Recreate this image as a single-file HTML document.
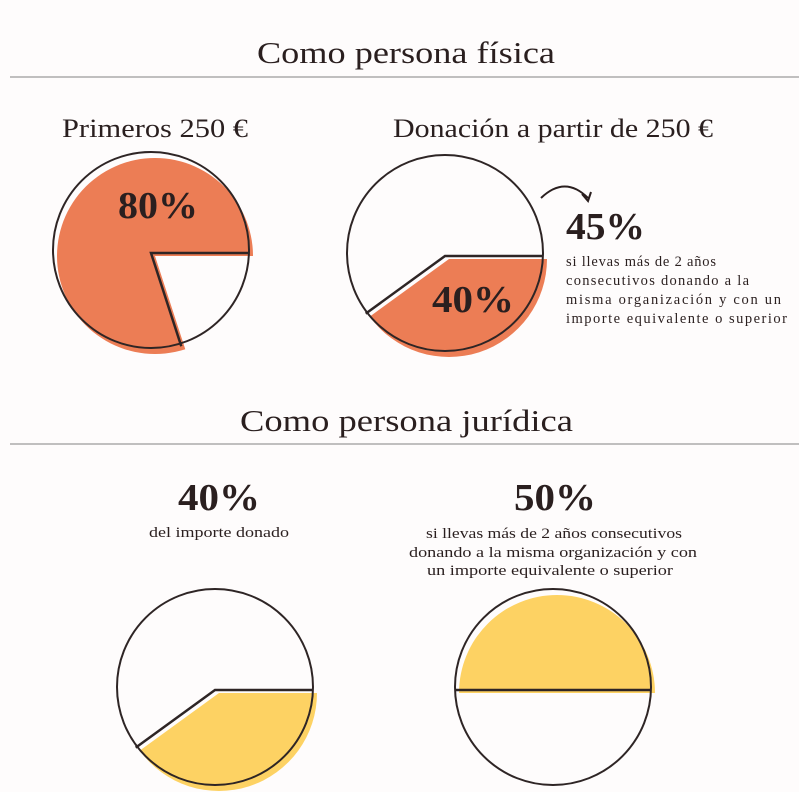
<!DOCTYPE html>
<html><head><meta charset="utf-8"><style>
body{margin:0;background:#fff;}
svg{display:block;font-family:"Liberation Serif",serif;}
</style></head><body>
<svg id="c" width="799" height="792" viewBox="0 0 799 792">
<rect width="799" height="792" fill="#fefcfc"/>
<text x="257" y="63" font-size="31" textLength="298" lengthAdjust="spacingAndGlyphs" fill="#2a1f1f">Como persona física</text>
<line x1="10" y1="77" x2="799" y2="77" stroke="#9a9a9a" stroke-width="1.2"/>
<text x="62" y="137" font-size="26" textLength="186" lengthAdjust="spacingAndGlyphs" fill="#2a1f1f">Primeros 250 €</text>
<text x="393" y="137" font-size="26" textLength="320" lengthAdjust="spacingAndGlyphs" fill="#2a1f1f">Donación a partir de 250 €</text>
<g id="pies"></g>
<text x="118" y="218" font-size="38" font-weight="bold" textLength="80" lengthAdjust="spacingAndGlyphs" fill="#2a1f1f">80%</text>
<text x="432" y="312" font-size="38" font-weight="bold" textLength="82" lengthAdjust="spacingAndGlyphs" fill="#2a1f1f">40%</text>
<path d="M541 198 Q565 175 588 198" fill="none" stroke="#2a1f1f" stroke-width="2"/>
<path d="M582 194 L588 201 L591 192" fill="none" stroke="#2a1f1f" stroke-width="2"/>
<text x="566" y="239" font-size="38" font-weight="bold" textLength="79" lengthAdjust="spacingAndGlyphs" fill="#2a1f1f">45%</text>
<g font-size="14.5" fill="#2a1f1f" lengthAdjust="spacingAndGlyphs">
<text x="566" y="266" textLength="150">si llevas más de 2 años</text>
<text x="566" y="285" textLength="183">consecutivos donando a la</text>
<text x="566" y="304" textLength="215">misma organización y con un</text>
<text x="566" y="323" textLength="221">importe equivalente o superior</text>
</g>
<text x="240" y="431" font-size="31" textLength="333" lengthAdjust="spacingAndGlyphs" fill="#2a1f1f">Como persona jurídica</text>
<line x1="10" y1="444" x2="799" y2="444" stroke="#9a9a9a" stroke-width="1.2"/>
<text x="178" y="510" font-size="38" font-weight="bold" textLength="82" lengthAdjust="spacingAndGlyphs" fill="#2a1f1f">40%</text>
<text x="149" y="537" font-size="14.5" textLength="140" lengthAdjust="spacingAndGlyphs" fill="#2a1f1f">del importe donado</text>
<text x="514" y="510" font-size="38" font-weight="bold" textLength="82" lengthAdjust="spacingAndGlyphs" fill="#2a1f1f">50%</text>
<g font-size="14.5" fill="#2a1f1f">
<text x="426" y="538" textLength="256" lengthAdjust="spacingAndGlyphs">si llevas más de 2 años consecutivos</text>
<text x="409" y="557" textLength="288" lengthAdjust="spacingAndGlyphs">donando a la misma organización y con</text>
<text x="427" y="575" textLength="246" lengthAdjust="spacingAndGlyphs">un importe equivalente o superior</text>
</g>
</svg>
<script>
const pieNames=['pie-fisica-primeros','pie-fisica-resto','pie-juridica-40','pie-juridica-50'];
const piePercents=[80,40,40,50];
const pieColors=['#ec7d55','#ec7d55','#fdd263','#fdd263'];
const pieDirections=[-1,1,1,-1];
const layout=[{cx:151,cy:253,r:98},{cx:445,cy:256,r:98},{cx:215,cy:690,r:98},{cx:553,cy:690,r:98}];
const ns='http://www.w3.org/2000/svg';
const g=document.getElementById('pies');
function pt(cx,cy,r,deg){const a=deg*Math.PI/180;return [cx+r*Math.cos(a),cy+r*Math.sin(a)];}
function sector(cx,cy,r,a0,a1){
  const p0=pt(cx,cy,r,a0),p1=pt(cx,cy,r,a1);
  const large=Math.abs(a1-a0)>180?1:0,sw=a1>a0?1:0;
  return `M${cx} ${cy} L${p0[0]} ${p0[1]} A${r} ${r} 0 ${large} ${sw} ${p1[0]} ${p1[1]} Z`;
}
piePercents.forEach((v,i)=>{
  const L=layout[i],sweep=v*3.6;
  const a0=0,a1=pieDirections[i]===1?sweep:-sweep;
  const fill=document.createElementNS(ns,'path');
  fill.setAttribute('d',sector(L.cx+4,L.cy+3,L.r,a0,a1));
  fill.setAttribute('fill',pieColors[i]);
  
  
  g.appendChild(fill);
  const circ=document.createElementNS(ns,'circle');
  circ.setAttribute('cx',L.cx);circ.setAttribute('cy',L.cy-3);circ.setAttribute('r',L.r);
  circ.setAttribute('fill','none');circ.setAttribute('stroke','#2e2525');circ.setAttribute('stroke-width','2');
  
  
  g.appendChild(circ);
  const p=pt(L.cx,L.cy,L.r,a1),e=pt(L.cx,L.cy,L.r,0);
  const ln=document.createElementNS(ns,'path');
  ln.setAttribute('d',i===3?`M${L.cx-L.r} ${L.cy} L${e[0]} ${e[1]}`:`M${e[0]} ${e[1]} L${L.cx} ${L.cy} L${p[0]} ${p[1]}`);
  ln.setAttribute('fill','none');ln.setAttribute('stroke','#2e2525');ln.setAttribute('stroke-width','2.5');
  
  
  g.appendChild(ln);
});
</script>
</body></html>
